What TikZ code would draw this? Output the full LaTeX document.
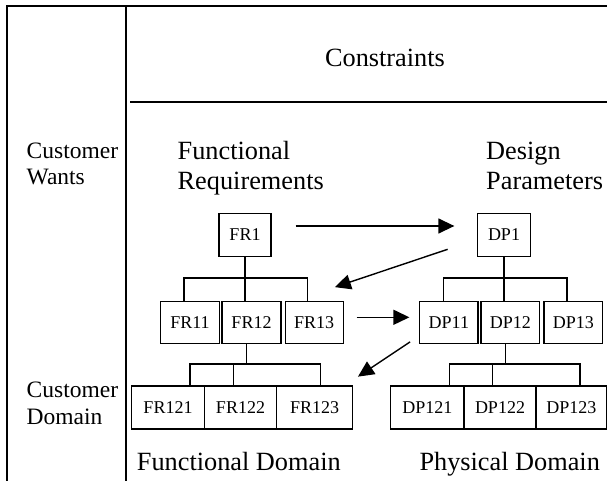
\documentclass[tikz,border=0pt]{standalone}
\usepackage{fontspec}
\setmainfont{Liberation Serif}
\usetikzlibrary{arrows.meta}
\begin{document}
\begin{tikzpicture}[x=1pt,y=-1pt,
  frame/.style={line width=1.7pt},
  box/.style={draw,line width=1.3pt,inner sep=0pt,minimum width=#1,minimum height=42pt,
    font=\fontsize{18}{20}\selectfont},
  tree/.style={line width=1.3pt},
  arr/.style={line width=1.4pt,-{Triangle[length=16pt,width=15pt]}},
  big/.style={inner sep=0pt,anchor=base west,align=left,font=\fontsize{26.3}{29.3}\selectfont},
  side/.style={inner sep=0pt,anchor=base west,align=left,font=\fontsize{23.5}{26.8}\selectfont}]
\useasboundingbox (0,0) rectangle (607,481);
% frame
\draw[frame] (7,481) -- (7,6) -- (607,6);
\draw[frame] (125.7,6) -- (125.7,481);
\draw[frame] (130,102.3) -- (607,102.3);
% labels (base anchor = baseline of last line)
\node[big,anchor=base] (cons) at (385,66.7) {Constraints};
\node[side] (cw) at (26.5,185) {Customer\\Wants};
\node[side] (cd) at (26.5,424) {Customer\\Domain};
\node[big] (fr) at (177.5,189.3) {Functional\\Requirements};
\node[big] (dp) at (486,189.3) {Design\\Parameters};
\node[big] (fd) at (136.7,470) {Functional Domain};
\node[big] (pd) at (419.3,470) {Physical Domain};
% boxes
\node[box=52pt,minimum height=43pt] (FR1) at (245,235) {FR1};
\node[box=52.6pt,minimum height=43pt] (DP1) at (504,235) {DP1};
\node[box=59pt] (FR11) at (190,322.5) {FR11};
\node[box=59pt] (FR12) at (251.5,322.5) {FR12};
\node[box=58pt] (FR13) at (314.2,322.5) {FR13};
\node[box=58.3pt] (DP11) at (448.9,322.5) {DP11};
\node[box=58.7pt] (DP12) at (510.4,322.5) {DP12};
\node[box=58.7pt] (DP13) at (573.4,322.5) {DP13};
\node[box=72.6pt,minimum height=43pt] (FR121) at (168,407.5) {FR121};
\node[box=72.4pt,minimum height=43pt] (FR122) at (240.5,407.5) {FR122};
\node[box=76pt,minimum height=43pt] (FR123) at (314.7,407.5) {FR123};
\node[box=73.3pt,minimum height=43pt] (DP121) at (427.3,407.5) {DP121};
\node[box=72pt,minimum height=43pt] (DP122) at (500,407.5) {DP122};
\node[box=70.7pt,minimum height=43pt] (DP123) at (571.3,407.5) {DP123};
% tree FR1
\coordinate (fb1) at (184,278);
\coordinate (fb3) at (307.3,278);
\draw[tree] (FR1.south) -- (FR1.south |- FR12.north);
\draw[tree] (fb1 |- FR11.north) -- (fb1) -- (fb3) -- (fb3 |- FR13.north);
% tree DP1
\coordinate (db1) at (443.3,278);
\coordinate (db3) at (567,278);
\draw[tree] (DP1.south) -- (DP1.south |- DP12.north);
\draw[tree] (db1 |- DP11.north) -- (db1) -- (db3) -- (db3 |- DP13.north);
% tree FR12
\coordinate (fc) at (246.3,364);
\coordinate (fc1) at (190,364);
\coordinate (fc2) at (233.3,364);
\coordinate (fc3) at (320.7,364);
\draw[tree] (FR12.south -| fc) -- (fc);
\draw[tree] (fc1 |- FR121.north) -- (fc1) -- (fc3) -- (fc3 |- FR123.north);
\draw[tree] (fc2) -- (fc2 |- FR122.north);
% tree DP12
\coordinate (dc) at (505.3,364);
\coordinate (dc1) at (449.3,364);
\coordinate (dc2) at (492.7,364);
\coordinate (dc3) at (580,364);
\draw[tree] (DP12.south -| dc) -- (dc);
\draw[tree] (dc1 |- DP121.north) -- (dc1) -- (dc3) -- (dc3 |- DP123.north);
\draw[tree] (dc2) -- (dc2 |- DP122.north);
% mapping arrows
\draw[arr] ([xshift=24pt,yshift=9pt]FR1.east) -- ([xshift=-22.7pt,yshift=9pt]DP1.west);
\draw[arr] ([xshift=-29.4pt,yshift=-14.3pt]DP1.west) -- ([xshift=-9pt,yshift=13.7pt]FR13.north east);
\draw[arr] ([xshift=12.7pt,yshift=5.2pt]FR13.east) -- ([xshift=-9.7pt,yshift=5.2pt]DP11.west);
\draw[arr] ([xshift=-9pt,yshift=2.3pt]DP11.south west) -- ([xshift=4.6pt,yshift=8.7pt]FR123.north east);
\end{tikzpicture}
\end{document}
